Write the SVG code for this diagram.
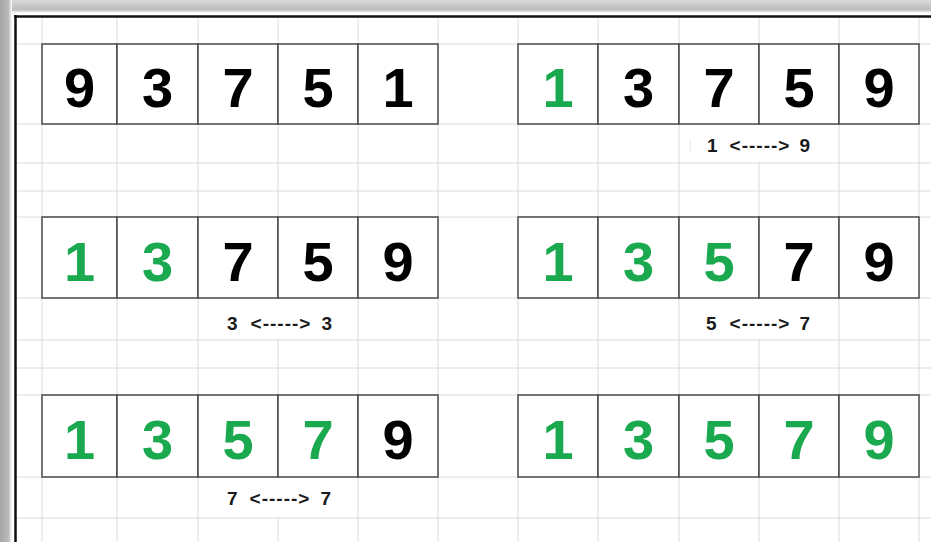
<svg xmlns="http://www.w3.org/2000/svg" width="931" height="542" viewBox="0 0 931 542">
<defs>
<linearGradient id="shTop" x1="0" y1="0" x2="0" y2="1">
<stop offset="0" stop-color="#dadada"/>
<stop offset="0.75" stop-color="#bcbcbc"/>
<stop offset="1" stop-color="#ffffff"/>
</linearGradient>
<linearGradient id="shLeft" x1="0" y1="0" x2="1" y2="0">
<stop offset="0" stop-color="#a6a6a6"/>
<stop offset="0.7" stop-color="#b8b8b8"/>
<stop offset="1" stop-color="#ffffff"/>
</linearGradient>
</defs>
<style>
.grid{stroke:#dcdcdc;stroke-width:1;fill:none}
.cell{fill:#ffffff;stroke:#4a4a4a;stroke-width:1.5}
.d{font-family:"Liberation Sans",Arial,sans-serif;font-weight:bold;font-size:56px;text-anchor:middle;fill:#000000}
.g{fill:#1aa94e}
.lbl{font-family:"Liberation Sans",Arial,sans-serif;font-weight:bold;font-size:19px;fill:#1a1a1a}
.s{text-anchor:start}
.m{text-anchor:middle;letter-spacing:1px}
.e{text-anchor:end}
.mask{fill:#ffffff}
</style>
<rect x="0" y="0" width="931" height="542" fill="#ffffff"/>
<rect x="0" y="0" width="931" height="13" fill="url(#shTop)"/>
<rect x="0" y="0" width="12" height="542" fill="url(#shLeft)"/>
<rect x="12" y="13" width="919" height="529" fill="#ffffff"/>

<g id="grid">
<path class="grid" d="M42 16V542M117 16V542M198 16V542M278 16V542M358 16V542M438 16V542M518 16V542M598 16V542M679 16V542M759 16V542M839 16V542M919 16V542"/>
<path class="grid" d="M16 44H931M16 124H931M16 163H931M16 191H931M16 217H931M16 298H931M16 340H931M16 368H931M16 395H931M16 477H931M16 518H931"/>
<rect class="mask" x="750" y="125" width="18" height="37"/>
<rect class="mask" x="269" y="299" width="18" height="40"/>
<rect class="mask" x="750" y="299" width="18" height="40"/>
<rect class="mask" x="269" y="478" width="18" height="39"/>
<path d="M690 139V152" stroke="#e4e4e4" stroke-width="1"/>
</g>

<g id="frame">
<path d="M14 16.5H931M15.5 15V542" stroke="#111111" stroke-width="2.5" fill="none"/>
</g>

<g id="connectors"></g>

<g id="array1">
<rect class="cell" x="42" y="44" width="75" height="80"/>
<rect class="cell" x="117" y="44" width="81" height="80"/>
<rect class="cell" x="198" y="44" width="80" height="80"/>
<rect class="cell" x="278" y="44" width="80" height="80"/>
<rect class="cell" x="358" y="44" width="80" height="80"/>
<text class="d" x="79.5" y="107">9</text>
<text class="d" x="157.5" y="107">3</text>
<text class="d" x="238" y="107">7</text>
<text class="d" x="318" y="107">5</text>
<text class="d" x="398" y="107">1</text>
</g>

<g id="array2">
<rect class="cell" x="518" y="44" width="80" height="80"/>
<rect class="cell" x="598" y="44" width="81" height="80"/>
<rect class="cell" x="679" y="44" width="80" height="80"/>
<rect class="cell" x="759" y="44" width="80" height="80"/>
<rect class="cell" x="839" y="44" width="80" height="80"/>
<text class="d g" x="558" y="107">1</text>
<text class="d" x="638.5" y="107">3</text>
<text class="d" x="719" y="107">7</text>
<text class="d" x="799" y="107">5</text>
<text class="d" x="879" y="107">9</text>
</g>
<g id="label1">
<text class="lbl s" x="707" y="152">1</text>
<text class="lbl m" x="760" y="152">&lt;-----&gt;</text>
<text class="lbl e" x="810" y="152">9</text>
</g>

<g id="array3">
<rect class="cell" x="42" y="217" width="75" height="81"/>
<rect class="cell" x="117" y="217" width="81" height="81"/>
<rect class="cell" x="198" y="217" width="80" height="81"/>
<rect class="cell" x="278" y="217" width="80" height="81"/>
<rect class="cell" x="358" y="217" width="80" height="81"/>
<text class="d g" x="79.5" y="281">1</text>
<text class="d g" x="157.5" y="281">3</text>
<text class="d" x="238" y="281">7</text>
<text class="d" x="318" y="281">5</text>
<text class="d" x="398" y="281">9</text>
</g>
<g id="label2">
<text class="lbl s" x="227" y="330">3</text>
<text class="lbl m" x="281" y="330">&lt;-----&gt;</text>
<text class="lbl e" x="332" y="330">3</text>
</g>

<g id="array4">
<rect class="cell" x="518" y="217" width="80" height="81"/>
<rect class="cell" x="598" y="217" width="81" height="81"/>
<rect class="cell" x="679" y="217" width="80" height="81"/>
<rect class="cell" x="759" y="217" width="80" height="81"/>
<rect class="cell" x="839" y="217" width="80" height="81"/>
<text class="d g" x="558" y="281">1</text>
<text class="d g" x="638.5" y="281">3</text>
<text class="d g" x="719" y="281">5</text>
<text class="d" x="799" y="281">7</text>
<text class="d" x="879" y="281">9</text>
</g>
<g id="label3">
<text class="lbl s" x="706" y="330">5</text>
<text class="lbl m" x="760" y="330">&lt;-----&gt;</text>
<text class="lbl e" x="810" y="330">7</text>
</g>

<g id="array5">
<rect class="cell" x="42" y="395" width="75" height="82"/>
<rect class="cell" x="117" y="395" width="81" height="82"/>
<rect class="cell" x="198" y="395" width="80" height="82"/>
<rect class="cell" x="278" y="395" width="80" height="82"/>
<rect class="cell" x="358" y="395" width="80" height="82"/>
<text class="d g" x="79.5" y="459">1</text>
<text class="d g" x="157.5" y="459">3</text>
<text class="d g" x="238" y="459">5</text>
<text class="d g" x="318" y="459">7</text>
<text class="d" x="398" y="459">9</text>
</g>
<g id="label4">
<text class="lbl s" x="227" y="505">7</text>
<text class="lbl m" x="280" y="505">&lt;-----&gt;</text>
<text class="lbl e" x="331" y="505">7</text>
</g>

<g id="array6">
<rect class="cell" x="518" y="395" width="80" height="82"/>
<rect class="cell" x="598" y="395" width="81" height="82"/>
<rect class="cell" x="679" y="395" width="80" height="82"/>
<rect class="cell" x="759" y="395" width="80" height="82"/>
<rect class="cell" x="839" y="395" width="80" height="82"/>
<text class="d g" x="558" y="459">1</text>
<text class="d g" x="638.5" y="459">3</text>
<text class="d g" x="719" y="459">5</text>
<text class="d g" x="799" y="459">7</text>
<text class="d g" x="879" y="459">9</text>
</g>
</svg>
